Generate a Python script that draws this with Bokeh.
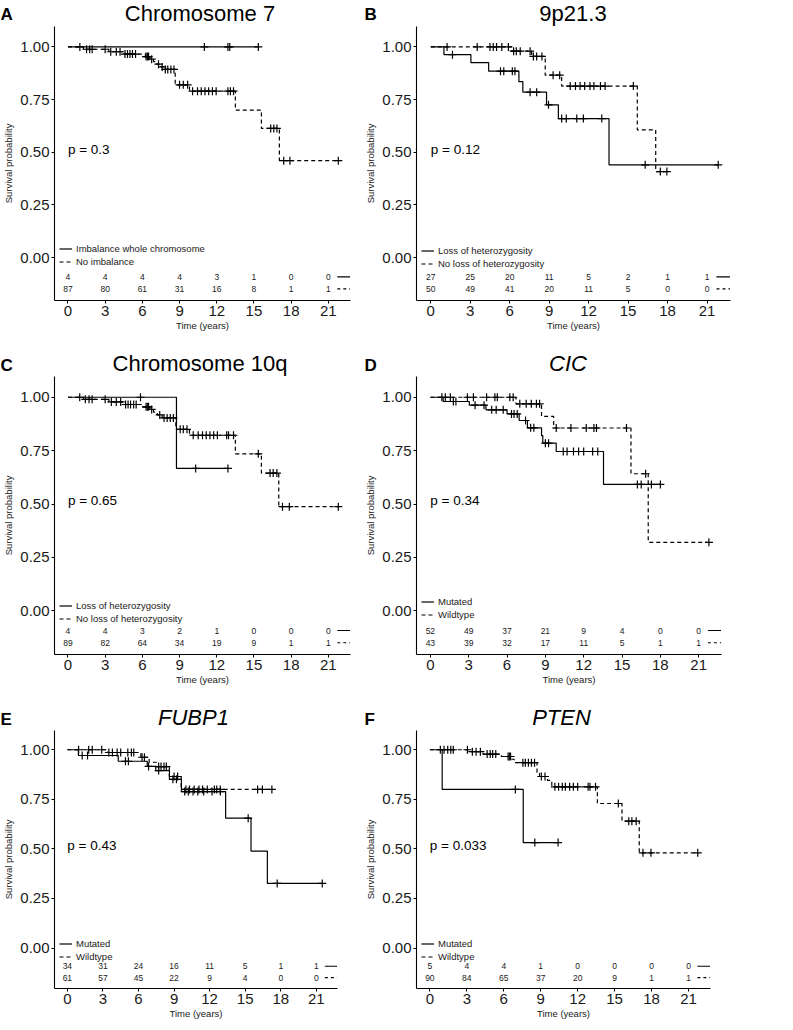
import numpy as np
from bokeh.plotting import figure
from bokeh.layouts import column, row
from bokeh.models import (Range1d, Label, Legend, LegendItem, FixedTicker,
                          PrintfTickFormatter)
from bokeh.core.properties import value
from bokeh.embed import file_html
from bokeh.resources import INLINE

FONT = "Liberation Sans"

# ---------------- shared axes ----------------
X_TICKS = [0, 3, 6, 9, 12, 15, 18, 21]
Y_TICKS = [0.0, 0.25, 0.50, 0.75, 1.00]

# ---------------- Panel A : Chromosome 7 ----------------
A_LABELS = ["Imbalance whole chromosome", "No imbalance"]
A_PVAL = "p = 0.3"
A1_TIME = [0, 15.35]
A1_SURV = [1.0, 1.0]
A1_CENS = [11.0, 12.9, 13.05, 15.35]
A2_TIME = [0, 1.25, 3.3, 4.4, 6.25, 6.6, 6.9, 7.15, 7.5, 7.7, 8.65, 9.8, 13.5, 15.6, 17.05, 21.8]
A2_SURV = [1.0, 0.989, 0.977, 0.966, 0.954, 0.942, 0.93, 0.918, 0.905, 0.893, 0.82, 0.79, 0.70, 0.613, 0.46, 0.46]
A2_CENS = [0.96, 1.5, 1.75, 1.95, 3.0, 3.45, 3.9, 4.2, 4.6, 4.8, 5.0, 5.2, 5.45, 6.3, 6.4, 6.5,
           6.75, 7.3, 7.6, 7.85, 8.05, 8.3, 8.55, 9.0, 9.3, 9.65, 10.05, 10.45, 10.75, 11.05,
           11.35, 11.65, 11.95, 12.9, 13.1, 13.35, 16.35, 16.6, 16.85, 17.4, 17.9, 21.8]
A_RISK1 = [4, 4, 4, 4, 3, 1, 0, 0]
A_RISK2 = [87, 80, 61, 31, 16, 8, 1, 1]

# ---------------- Panel B : 9p21.3 ----------------
B_LABELS = ["Loss of heterozygosity", "No loss of heterozygosity"]
B_PVAL = "p = 0.12"
B1_TIME = [0, 1.0, 3.05, 4.4, 6.7, 7.0, 8.8, 9.7, 13.55, 21.85]
B1_SURV = [1.0, 0.963, 0.925, 0.885, 0.835, 0.785, 0.725, 0.66, 0.44, 0.44]
B1_CENS = [1.65, 5.3, 5.55, 6.2, 6.4, 7.55, 8.05, 8.95, 9.95, 10.3, 11.1, 11.6, 13.0, 16.3, 21.85]
B2_TIME = [0, 6.15, 7.67, 8.7, 9.95, 15.7, 17.1, 17.95]
B2_SURV = [1.0, 0.98, 0.955, 0.866, 0.814, 0.606, 0.408, 0.408]
B2_CENS = [1.24, 3.53, 4.5, 4.75, 5.0, 5.4, 5.9, 6.3, 6.5, 6.8, 7.55, 7.8, 8.05, 8.45, 9.3, 9.8,
           10.6, 11.0, 11.35, 11.7, 12.1, 12.4, 12.9, 13.25, 15.4, 17.45, 17.95]
B_RISK1 = [27, 25, 20, 11, 5, 2, 1, 1]
B_RISK2 = [50, 49, 41, 20, 11, 5, 0, 0]

# ---------------- Panel C : Chromosome 10q ----------------
C_LABELS = ["Loss of heterozygosity", "No loss of heterozygosity"]
C_PVAL = "p = 0.65"
C1_TIME = [0, 8.75, 12.9]
C1_SURV = [1.0, 0.667, 0.667]
C1_CENS = [5.85, 10.3, 12.9]
C2_TIME = [0, 1.25, 3.3, 4.4, 6.0, 6.6, 6.9, 7.2, 7.6, 8.7, 9.8, 13.5, 15.6, 17.0, 21.8]
C2_SURV = [1.0, 0.99, 0.978, 0.966, 0.955, 0.943, 0.93, 0.917, 0.903, 0.85, 0.822, 0.735, 0.645, 0.488, 0.488]
C2_CENS = [0.95, 1.4, 1.7, 1.95, 3.0, 3.5, 3.9, 4.25, 4.65, 4.85, 5.05, 5.3, 5.5, 6.3, 6.4, 6.5,
           6.75, 7.4, 7.75, 8.0, 8.25, 8.5, 9.05, 9.3, 9.6, 10.1, 10.5, 10.85, 11.15, 11.45,
           11.75, 12.05, 12.8, 12.95, 13.35, 15.35, 16.3, 16.55, 16.85, 17.3, 17.85, 21.8]
C_RISK1 = [4, 4, 3, 2, 1, 0, 0, 0]
C_RISK2 = [89, 82, 64, 34, 19, 9, 1, 1]

# ---------------- Panel D : CIC ----------------
D_LABELS = ["Mutated", "Wildtype"]
D_PVAL = "p = 0.34"
D1_TIME = [0, 1.0, 3.05, 4.35, 6.0, 6.95, 7.6, 8.7, 8.8, 9.85, 13.55, 18.0]
D1_SURV = [1.0, 0.98, 0.963, 0.941, 0.922, 0.891, 0.857, 0.82, 0.785, 0.746, 0.592, 0.592]
D1_CENS = [1.8, 2.0, 3.5, 4.2, 4.8, 5.15, 5.7, 6.35, 6.55, 6.8, 7.45, 7.85, 8.1, 9.0, 9.25,
           10.4, 10.7, 11.2, 11.6, 12.0, 12.7, 13.1, 16.2, 16.5, 17.3, 18.0]
D2_TIME = [0, 6.7, 8.7, 9.65, 15.7, 17.05, 21.8]
D2_SURV = [1.0, 0.969, 0.91, 0.856, 0.642, 0.321, 0.321]
D2_CENS = [0.9, 1.17, 1.56, 2.9, 3.37, 4.4, 5.05, 5.24, 6.22, 6.48, 7.0, 7.5, 7.9, 8.3, 8.55,
           9.85, 11.0, 12.2, 12.8, 13.0, 15.35, 16.85, 21.8]
D_RISK1 = [52, 49, 37, 21, 9, 4, 0, 0]
D_RISK2 = [43, 39, 32, 17, 11, 5, 1, 1]

# ---------------- Panel E : FUBP1 ----------------
E_LABELS = ["Mutated", "Wildtype"]
E_PVAL = "p = 0.43"
E1_TIME = [0, 0.93, 4.29, 6.74, 7.46, 8.61, 9.62, 13.35, 15.49, 16.87, 21.5]
E1_SURV = [1.0, 0.971, 0.942, 0.916, 0.895, 0.851, 0.789, 0.655, 0.489, 0.326, 0.326]
E1_CENS = [1.25, 1.7, 4.9, 5.15, 6.85, 7.7, 8.9, 9.2, 9.9, 10.2, 10.6, 11.0, 11.5, 12.2, 12.9,
           15.25, 17.7, 21.5]
E2_TIME = [0, 3.4, 6.2, 6.9, 7.5, 8.6, 9.6, 17.25]
E2_SURV = [1.0, 0.986, 0.962, 0.937, 0.915, 0.865, 0.80, 0.80]
E2_CENS = [0.95, 1.8, 2.1, 2.9, 3.5, 3.8, 4.2, 4.5, 5.1, 5.4, 5.6, 6.3, 6.5, 7.7, 7.9, 8.15,
           8.35, 9.0, 9.3, 10.0, 10.3, 10.7, 11.1, 11.4, 11.8, 12.4, 12.6, 12.9, 16.05, 16.45, 17.25]
E_RISK1 = [34, 31, 24, 16, 11, 5, 1, 1]
E_RISK2 = [61, 57, 45, 22, 9, 4, 0, 0]

# ---------------- Panel F : PTEN ----------------
F_LABELS = ["Mutated", "Wildtype"]
F_PVAL = "p = 0.033"
F1_TIME = [0, 1.0, 7.58, 10.41]
F1_SURV = [1.0, 0.80, 0.532, 0.532]
F1_CENS = [6.94, 8.52, 10.41]
F2_TIME = [0, 3.1, 4.3, 5.8, 6.65, 6.85, 8.7, 8.9, 9.55, 9.9, 13.6, 15.6, 17.0, 21.75]
F2_SURV = [1.0, 0.99, 0.978, 0.966, 0.952, 0.935, 0.885, 0.865, 0.845, 0.813, 0.729, 0.64, 0.48, 0.48]
F2_CENS = [0.85, 1.15, 1.45, 1.7, 1.9, 3.05, 3.45, 3.75, 4.1, 4.65, 4.9, 5.1, 5.35, 6.35, 6.45,
           6.55, 7.55, 7.75, 8.0, 8.25, 8.5, 9.05, 9.35, 10.15, 10.45, 10.75, 11.0, 11.35, 11.65,
           12.0, 12.85, 13.0, 13.45, 15.3, 16.15, 16.4, 16.75, 17.3, 17.95, 21.75]
F_RISK1 = [5, 4, 4, 1, 0, 0, 0, 0]
F_RISK2 = [90, 84, 65, 37, 20, 9, 1, 1]

# ---------------- layout / style settings ----------------
X_RANGE = (-1.085, 22.785)
Y_RANGE = (-0.204, 1.097)
RISK_ROWS = (-0.092, -0.149)
DASH = "4 3"
INK = "#1a1a1a"


def surv_at(times, survs, t):
    idx = np.searchsorted(np.asarray(times), np.asarray(t), side="right") - 1
    idx = np.clip(idx, 0, len(survs) - 1)
    return np.asarray(survs)[idx]


def make_strip(W, H, letter, letter_x, letter_y, title, italic, title_cx):
    """Header strip holding the panel letter and the panel title."""
    s = figure(width=W, height=H, x_range=Range1d(0, W), y_range=Range1d(0, H),
               output_backend="svg", toolbar_location=None,
               x_axis_location=None, y_axis_location=None,
               min_border_left=0, min_border_right=0, min_border_top=0, min_border_bottom=0)
    s.grid.visible = False
    s.outline_line_color = None
    s.text(x=[title_cx], y=[1], text=[title], text_align="center",
           text_baseline="bottom", text_font=value(FONT), text_font_size="22px",
           text_font_style="italic" if italic else "normal", text_color="black")
    s.text(x=[letter_x], y=[H - letter_y], text=[letter], text_align="left",
           text_baseline="middle", text_font=value(FONT), text_font_size="17px",
           text_font_style="bold", text_color="black")
    return s


def make_panel(pval, labels, c1, c2, risk1, risk2, geom, leg_y):
    W, H, bl, br, bb = geom
    fh = H - bb
    p = figure(width=W, height=H, x_range=Range1d(*X_RANGE), y_range=Range1d(*Y_RANGE),
               output_backend="svg", toolbar_location=None,
               min_border_left=bl, min_border_right=br,
               min_border_top=0, min_border_bottom=bb)
    p.grid.visible = False
    p.outline_line_color = None

    p.xaxis.ticker = FixedTicker(ticks=X_TICKS)
    p.yaxis.ticker = FixedTicker(ticks=Y_TICKS)
    p.yaxis.formatter = PrintfTickFormatter(format="%.2f")
    p.xaxis.axis_label = "Time (years)"
    p.yaxis.axis_label = "Survival probability"
    for ax in (p.xaxis, p.yaxis):
        ax.axis_line_color = "black"
        ax.axis_line_width = 1.1
        ax.major_tick_line_color = "black"
        ax.major_tick_out = 3
        ax.major_tick_in = 0
        ax.minor_tick_out = 0
        ax.minor_tick_in = 0
        ax.major_label_text_font = FONT
        ax.major_label_text_font_size = "15px"
        ax.major_label_text_color = INK
        ax.major_label_standoff = 2
        ax.axis_label_text_font = FONT
        ax.axis_label_text_font_size = "9.5px"
        ax.axis_label_text_font_style = "normal"
        ax.axis_label_text_color = INK
    p.xaxis.axis_label_standoff = 1
    p.yaxis.axis_label_standoff = 3

    t1, s1, cens1 = c1
    t2, s2, cens2 = c2
    r1 = p.step(x=t1, y=s1, mode="after", line_color="black", line_width=1.2)
    r2 = p.step(x=t2, y=s2, mode="after", line_color="black", line_width=1.2, line_dash=DASH)
    p.scatter(x=cens1, y=surv_at(t1, s1, cens1), marker="cross", size=8,
              line_color="black", line_width=1.2)
    p.scatter(x=cens2, y=surv_at(t2, s2, cens2), marker="cross", size=8,
              line_color="black", line_width=1.2)

    # numbers at risk table inside the plot
    for risk, ry in zip((risk1, risk2), RISK_ROWS):
        p.text(x=X_TICKS, y=[ry] * len(X_TICKS), text=[str(v) for v in risk],
               text_align="center", text_baseline="middle",
               text_font=value(FONT), text_font_size="8.5px", text_color=INK)
    last = X_TICKS[-1]
    p.segment(x0=[last + 0.72], y0=[RISK_ROWS[0]], x1=[last + 1.75], y1=[RISK_ROWS[0]],
              line_color="black", line_width=1.1)
    p.segment(x0=[last + 0.72], y0=[RISK_ROWS[1]], x1=[last + 1.75], y1=[RISK_ROWS[1]],
              line_color="black", line_width=1.1, line_dash="3 3")

    # p-value
    p.add_layout(Label(x=0, y=0.515, text=pval, text_font=FONT, text_font_size="13.5px",
                       text_baseline="middle", text_align="left", text_color="black"))

    # legend
    scale = fh / (Y_RANGE[1] - Y_RANGE[0])
    vy = (leg_y - Y_RANGE[0]) * scale - 6.5
    legend = Legend(items=[LegendItem(label=labels[0], renderers=[r1]),
                           LegendItem(label=labels[1], renderers=[r2])],
                    location=(5, vy), orientation="vertical",
                    label_text_font=FONT, label_text_font_size="9.5px",
                    label_text_color=INK, glyph_width=13, glyph_height=13,
                    label_height=13, label_standoff=4, spacing=0, padding=0, margin=0,
                    background_fill_alpha=0, border_line_alpha=0)
    p.add_layout(legend)
    return p


# column geometry: (width, left border, right border)
COL1 = (362, 49, 12)
COL1_E = (362, 49, 25)
COL2_B = (415, 53, 47)
COL2_D = (415, 52, 56)
COL2_F = (415, 50, 67)
STRIP_H = (26, 36, 42)
PANEL_H = (314, 312, 292)


def frame_cx(col):
    W, bl, br = col
    return bl + (W - bl - br) / 2


sA = make_strip(COL1[0], STRIP_H[0], "A", 0, 14, "Chromosome 7", False, frame_cx(COL1))
sB = make_strip(COL2_B[0], STRIP_H[0], "B", 2, 14, "9p21.3", False, frame_cx(COL2_B))
sC = make_strip(COL1[0], STRIP_H[1], "C", 0, 25, "Chromosome 10q", False, frame_cx(COL1))
sD = make_strip(COL2_D[0], STRIP_H[1], "D", 2, 25, "CIC", True, frame_cx(COL2_D))
sE = make_strip(COL1_E[0], STRIP_H[2], "E", 0, 31, "FUBP1", True, frame_cx(COL1_E))
sF = make_strip(COL2_F[0], STRIP_H[2], "F", 2, 31, "PTEN", True, frame_cx(COL2_F))

pA = make_panel(A_PVAL, A_LABELS, (A1_TIME, A1_SURV, A1_CENS), (A2_TIME, A2_SURV, A2_CENS),
                A_RISK1, A_RISK2, (COL1[0], PANEL_H[0], COL1[1], COL1[2], 40), -0.023)
pB = make_panel(B_PVAL, B_LABELS, (B1_TIME, B1_SURV, B1_CENS), (B2_TIME, B2_SURV, B2_CENS),
                B_RISK1, B_RISK2, (COL2_B[0], PANEL_H[0], COL2_B[1], COL2_B[2], 34), -0.035)
pC = make_panel(C_PVAL, C_LABELS, (C1_TIME, C1_SURV, C1_CENS), (C2_TIME, C2_SURV, C2_CENS),
                C_RISK1, C_RISK2, (COL1[0], PANEL_H[1], COL1[1], COL1[2], 34), -0.036)
pD = make_panel(D_PVAL, D_LABELS, (D1_TIME, D1_SURV, D1_CENS), (D2_TIME, D2_SURV, D2_CENS),
                D_RISK1, D_RISK2, (COL2_D[0], PANEL_H[1], COL2_D[1], COL2_D[2], 34), -0.02)
pE = make_panel(E_PVAL, E_LABELS, (E1_TIME, E1_SURV, E1_CENS), (E2_TIME, E2_SURV, E2_CENS),
                E_RISK1, E_RISK2, (COL1_E[0], PANEL_H[2], COL1_E[1], COL1_E[2], 34), -0.045)
pF = make_panel(F_PVAL, F_LABELS, (F1_TIME, F1_SURV, F1_CENS), (F2_TIME, F2_SURV, F2_CENS),
                F_RISK1, F_RISK2, (COL2_F[0], PANEL_H[2], COL2_F[1], COL2_F[2], 34), -0.045)

layout = column(row(sA, sB), row(pA, pB),
                row(sC, sD), row(pC, pD),
                row(sE, sF), row(pE, pF))
open("out.html", "w").write(file_html(layout, INLINE))
